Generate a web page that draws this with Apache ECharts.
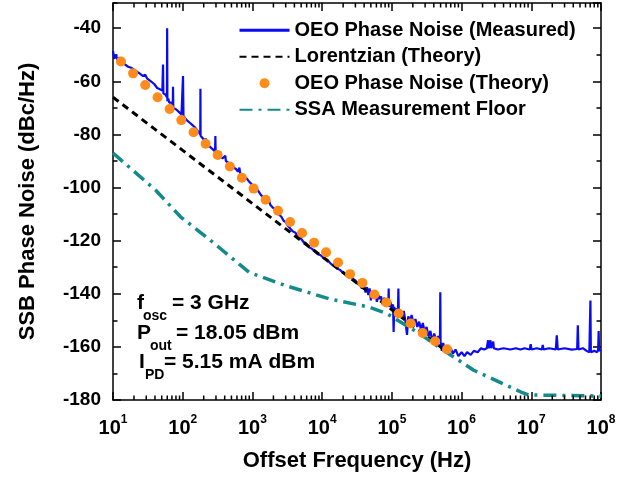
<!DOCTYPE html>
<html>
<head>
<meta charset="utf-8">
<script src="https://cdn.jsdelivr.net/npm/echarts/dist/echarts.min.js"></script>
<style>
  html, body { margin: 0; padding: 0; background: #fff; }
  #chart { width: 640px; height: 478px; }
</style>
</head>
<body>
<div id="chart"></div>
<script>
// values: [offset frequency (Hz), level (dBc/Hz)]
const measured = [
  [10, -48.5], [10.4, -51.5], [11, -50], [11.6, -52], [12.3, -51], [13, -52.5], [13.8, -52], [14.6, -53.5],
  [15.5, -53], [16.5, -54.5], [17.5, -54], [18.6, -55], [19.8, -54.5], [21, -56], [22.4, -55.5], [24, -57],
  [25.5, -56.5], [27, -58], [29, -57.5], [31, -59], [33, -58.5], [35, -60], [37, -59.5], [39, -61],
  [41, -60.5], [43, -62.5], [45, -62], [47, -63], [49, -62.5], [51, -63.5], [51.7, -64], [52.2, -53.7],
  [52.8, -64.5], [54.5, -64], [56.5, -65], [58.5, -65.5], [59.4, -66], [59.8, -40], [60.3, -67.5], [62, -66.5],
  [64, -68], [66, -67.5], [68, -68.5], [70, -68], [72, -69.5], [72.6, -62], [73.3, -70], [76, -69.5],
  [80, -70.5], [84, -70], [88, -71.5], [92, -71], [96, -72.5], [99.5, -72.5], [101, -58], [102.5, -73],
  [107, -73], [113, -74.5], [119, -74], [125, -75.5], [131, -75], [138, -76.5], [145, -76.5], [152, -77.5],
  [160, -78], [168, -79], [175, -79.5], [178.5, -80], [179.5, -62.8], [180.5, -80.5], [187, -80.5], [195, -81.5],
  [203, -81], [210, -82.5], [214, -81.5], [218, -83], [230, -83], [242, -84.5], [255, -84], [268, -85.5],
  [280, -85.5], [291, -86.5], [294, -80.6], [297, -87], [310, -86.5], [330, -88], [350, -87.5], [375, -89],
  [400, -89.5], [408, -88], [416, -90], [440, -90], [470, -91], [505, -91.5], [540, -92.5], [580, -93],
  [620, -94], [650, -92.5], [665, -94.5], [710, -95], [760, -96], [820, -96.5], [880, -97.5], [940, -98],
  [1000, -99], [1070, -100], [1150, -100.5], [1230, -101.5], [1300, -102.5], [1380, -102], [1460, -104], [1550, -104.5],
  [1640, -105.5], [1720, -104.5], [1800, -106.5], [1950, -107.5], [2100, -108], [2250, -109.5], [2400, -110], [2600, -111],
  [2800, -112.5], [3000, -113], [3250, -114.5], [3500, -115.5], [3800, -116.5], [4150, -117], [4500, -118.5], [4900, -119],
  [5400, -120.5], [5900, -121], [6500, -122.5], [7100, -123], [7800, -124], [8600, -125], [9500, -125.5], [10500, -126.5],
  [11500, -127], [12600, -128], [13700, -129], [15000, -129.5], [16400, -130.5], [18000, -131], [19700, -132], [21500, -132.5],
  [23500, -133.5], [25700, -133.5], [28000, -134.5], [30000, -135], [33000, -136.5], [35000, -135.5], [37000, -138], [40000, -137],
  [42000, -139.5], [44000, -137.5], [46000, -140.5], [48000, -138], [50000, -142.5], [52000, -139], [55000, -141], [58000, -139.5],
  [61000, -143], [64000, -140.5], [67000, -142], [70000, -141], [74000, -144], [78000, -141.5], [82000, -143.5], [86000, -142],
  [89000, -144], [90000, -138], [91000, -145], [95000, -143], [100000, -145.5], [104000, -144], [106000, -154.4], [108000, -145],
  [112000, -147], [117000, -145.5], [122000, -147.5], [124000, -138], [126000, -148], [132000, -147], [140000, -149], [148000, -146.5],
  [156000, -150], [165000, -155.5], [172000, -148.5], [182000, -150.5], [192000, -148], [205000, -151.5], [218000, -149.5], [232000, -152.5],
  [246000, -150.5], [262000, -153.5], [278000, -151], [296000, -154.5], [315000, -152.5], [335000, -156], [357000, -154], [380000, -158],
  [405000, -155], [430000, -157.5], [460000, -156], [490000, -157], [495000, -139.4], [500000, -158], [520000, -161.5], [545000, -158.5],
  [575000, -161.5], [610000, -159.5], [650000, -162], [700000, -160.5], [750000, -162.5], [820000, -161], [900000, -163.5], [1000000, -162],
  [1100000, -163.5], [1200000, -162], [1350000, -163], [1500000, -161.5], [1700000, -162], [1900000, -160.5], [2100000, -161], [2300000, -160.5],
  [2400000, -157.5], [2450000, -160.5], [2600000, -157.5], [2650000, -160.5], [2850000, -158], [2900000, -160.5], [3300000, -161], [4000000, -160.5],
  [5000000, -161], [6000000, -160.5], [7000000, -161], [8000000, -160.5], [9500000, -161], [9800000, -159], [10100000, -161], [12000000, -160.5],
  [14200000, -161], [14600000, -159.3], [15000000, -161], [18000000, -160.5], [22500000, -161], [23200000, -155.6], [24000000, -161], [30000000, -160.5],
  [38000000, -161], [45500000, -160.8], [46500000, -151.9], [47500000, -161], [55000000, -160.5], [62000000, -161.5], [68000000, -162], [69500000, -161.8],
  [70500000, -142.5], [71500000, -162], [80000000, -161.5], [88000000, -162], [91000000, -161], [92500000, -154], [94000000, -161.5], [100000000, -161]
];

const lorentzian = [
  [10, -66], [100, -86], [1000, -106], [10000, -126], [100000, -146], [600000, -161.6]
];

const oeoTheory = [
  [13.0, -52.5], [19.4, -57.0], [29.0, -61.4], [43.6, -66.0], [64.9, -70.4], [95.4, -74.6], [143, -79.2],
  [213, -83.5], [317, -87.7], [474, -92.1], [705, -96.3], [1040, -100.4], [1546, -104.6], [2328, -108.75],
  [3459, -113.0], [5150, -117.1], [7656, -120.75], [11380, -124.4], [16910, -128.25], [25120, -132.6], [37760, -135.9],
  [56100, -140.25], [83400, -143.25], [125300, -147.4], [186300, -151.2], [276900, -154.8], [417100, -157.9], [619300, -160.9]
];

const ssaFloor = [
  [10, -87], [41, -101], [93, -111], [238, -119.4], [893, -131.9], [2990, -136.9], [12560, -141.9], [47100, -145],
  [85300, -147.5], [229600, -154.4], [553000, -161.3], [1493000, -168.8], [6980000, -176.9], [9180000, -178.1], [100000000, -178.5]
];

const xExponents = [1, 2, 3, 4, 5, 6, 7, 8];
const minorMultipliers = [2, 3, 4, 5, 6, 7, 8, 9];
const yMin = -180;
const yMax = -30.5;

const font = '"Liberation Sans", Arial, sans-serif';

// log minor ticks (2..9 per decade) on bottom and top
const minorTicks = [];
xExponents.slice(0, 7).forEach(e => {
  minorMultipliers.forEach(m => minorTicks.push([m * Math.pow(10, e), yMin]));
});

const chart = echarts.init(document.getElementById('chart'));

const xBase = {
  type: 'log',
  logBase: 10,
  min: 10,
  max: 1e8,
  splitNumber: 7,
  splitLine: { show: false },
  axisLine: { lineStyle: { color: '#000', width: 1.5 } },
  axisTick: { inside: true, length: 8, lineStyle: { color: '#000', width: 1.5 } }
};

const yBase = {
  type: 'value',
  min: yMin,
  max: yMax,
  splitLine: { show: false },
  axisLine: { show: true, lineStyle: { color: '#000', width: 1.5 } }
};

const noSymbol = { opacity: 0 };

const option = {
  animation: false,
  grid: { left: 113, right: 39, top: 3, bottom: 78 },
  xAxis: [
    Object.assign({}, xBase, {
      position: 'bottom',
      name: 'Offset Frequency (Hz)',
      nameLocation: 'middle',
      nameGap: 50,
      nameTextStyle: { fontFamily: font, fontSize: 22, fontWeight: 'bold', color: '#000' },
      axisLabel: {
        margin: 14,
        formatter: v => {
          const e = xExponents.find(x => Math.abs(Math.pow(10, x) - v) < v * 1e-6);
          return '{b|10}{s|' + e + '}';
        },
        rich: {
          b: { fontFamily: font, fontSize: 20, fontWeight: 'bold', color: '#000', lineHeight: 24, verticalAlign: 'bottom' },
          s: { fontFamily: font, fontSize: 12, fontWeight: 'bold', color: '#000', lineHeight: 12, verticalAlign: 'top' }
        }
      }
    }),
    Object.assign({}, xBase, { position: 'top', axisLabel: { show: false } })
  ],
  yAxis: [
    Object.assign({}, yBase, {
      position: 'left',
      interval: 20,
      name: 'SSB Phase Noise (dBc/Hz)',
      nameLocation: 'middle',
      nameGap: 74,
      nameTextStyle: { fontFamily: font, fontSize: 22, fontWeight: 'bold', color: '#000' },
      axisTick: { inside: true, length: 8, lineStyle: { color: '#000', width: 1.5 } },
      axisLabel: { margin: 12, showMaxLabel: false, fontFamily: font, fontSize: 19, fontWeight: 'bold', color: '#000' }
    }),
    Object.assign({}, yBase, {
      position: 'left',
      interval: 10,
      axisLine: { show: false },
      axisTick: { inside: true, length: 4.5, lineStyle: { color: '#000', width: 1.5 } },
      axisLabel: { show: false }
    }),
    Object.assign({}, yBase, {
      position: 'right',
      interval: 20,
      axisTick: { inside: true, length: 8, lineStyle: { color: '#000', width: 1.5 } },
      axisLabel: { show: false }
    }),
    Object.assign({}, yBase, {
      position: 'right',
      interval: 10,
      axisLine: { show: false },
      axisTick: { inside: true, length: 4.5, lineStyle: { color: '#000', width: 1.5 } },
      axisLabel: { show: false }
    })
  ],
  legend: {
    orient: 'vertical',
    left: 233,
    top: 15,
    itemWidth: 50,
    itemHeight: 10,
    itemGap: 6,
    textStyle: { fontFamily: font, fontSize: 20, fontWeight: 'bold', color: '#000', lineHeight: 20.5 },
    data: [
      { name: 'OEO Phase Noise (Measured)', itemStyle: noSymbol, lineStyle: { width: 3 } },
      { name: 'Lorentzian (Theory)', itemStyle: noSymbol },
      { name: 'OEO Phase Noise (Theory)' },
      { name: 'SSA Measurement Floor', itemStyle: noSymbol }
    ]
  },
  graphic: [
    { type: 'text', left: 137, top: 293, style: { text: 'f', font: 'bold 21px ' + font, fill: '#000' } },
    { type: 'text', left: 143, top: 309, style: { text: 'osc', font: 'bold 14px ' + font, fill: '#000' } },
    { type: 'text', left: 172, top: 293, style: { text: '= 3 GHz', font: 'bold 21px ' + font, fill: '#000' } },
    { type: 'text', left: 137, top: 323, style: { text: 'P', font: 'bold 21px ' + font, fill: '#000' } },
    { type: 'text', left: 150, top: 339, style: { text: 'out', font: 'bold 14px ' + font, fill: '#000' } },
    { type: 'text', left: 176, top: 323, style: { text: '= 18.05 dBm', font: 'bold 21px ' + font, fill: '#000' } },
    { type: 'text', left: 139, top: 352, style: { text: 'I', font: 'bold 21px ' + font, fill: '#000' } },
    { type: 'text', left: 145, top: 368, style: { text: 'PD', font: 'bold 14px ' + font, fill: '#000' } },
    { type: 'text', left: 164, top: 352, style: { text: '= 5.15 mA dBm', font: 'bold 21px ' + font, fill: '#000' } }
  ],
  series: [
    {
      name: 'OEO Phase Noise (Measured)',
      type: 'line',
      symbol: 'none',
      data: measured,
      lineStyle: { color: '#0a0af5', width: 2.2 },
      itemStyle: { color: '#0a0af5' },
      z: 2
    },
    {
      name: 'Lorentzian (Theory)',
      type: 'line',
      symbol: 'none',
      data: lorentzian,
      lineStyle: { color: '#000', width: 3, type: [7, 5] },
      itemStyle: { color: '#000' },
      z: 3
    },
    {
      name: 'SSA Measurement Floor',
      type: 'line',
      symbol: 'none',
      data: ssaFloor,
      lineStyle: { color: '#168a8a', width: 3.5, type: [13, 6, 3, 6] },
      itemStyle: { color: '#168a8a' },
      z: 4
    },
    {
      name: 'OEO Phase Noise (Theory)',
      type: 'scatter',
      symbol: 'circle',
      symbolSize: 10,
      data: oeoTheory,
      itemStyle: { color: '#ff8c1a', opacity: 1 },
      z: 5
    },
    {
      type: 'custom',
      silent: true,
      data: minorTicks,
      encode: { x: 0, y: 1 },
      renderItem: (params, api) => {
        const f = api.value(0);
        const b = api.coord([f, yMin]);
        const t = api.coord([f, yMax]);
        return {
          type: 'group',
          children: [
            { type: 'line', shape: { x1: b[0], y1: b[1], x2: b[0], y2: b[1] - 4.5 }, style: { stroke: '#000', lineWidth: 1.5 } },
            { type: 'line', shape: { x1: t[0], y1: t[1], x2: t[0], y2: t[1] + 4.5 }, style: { stroke: '#000', lineWidth: 1.5 } }
          ]
        };
      },
      z: 6
    }
  ]
};

chart.setOption(option);
</script>
</body>
</html>
